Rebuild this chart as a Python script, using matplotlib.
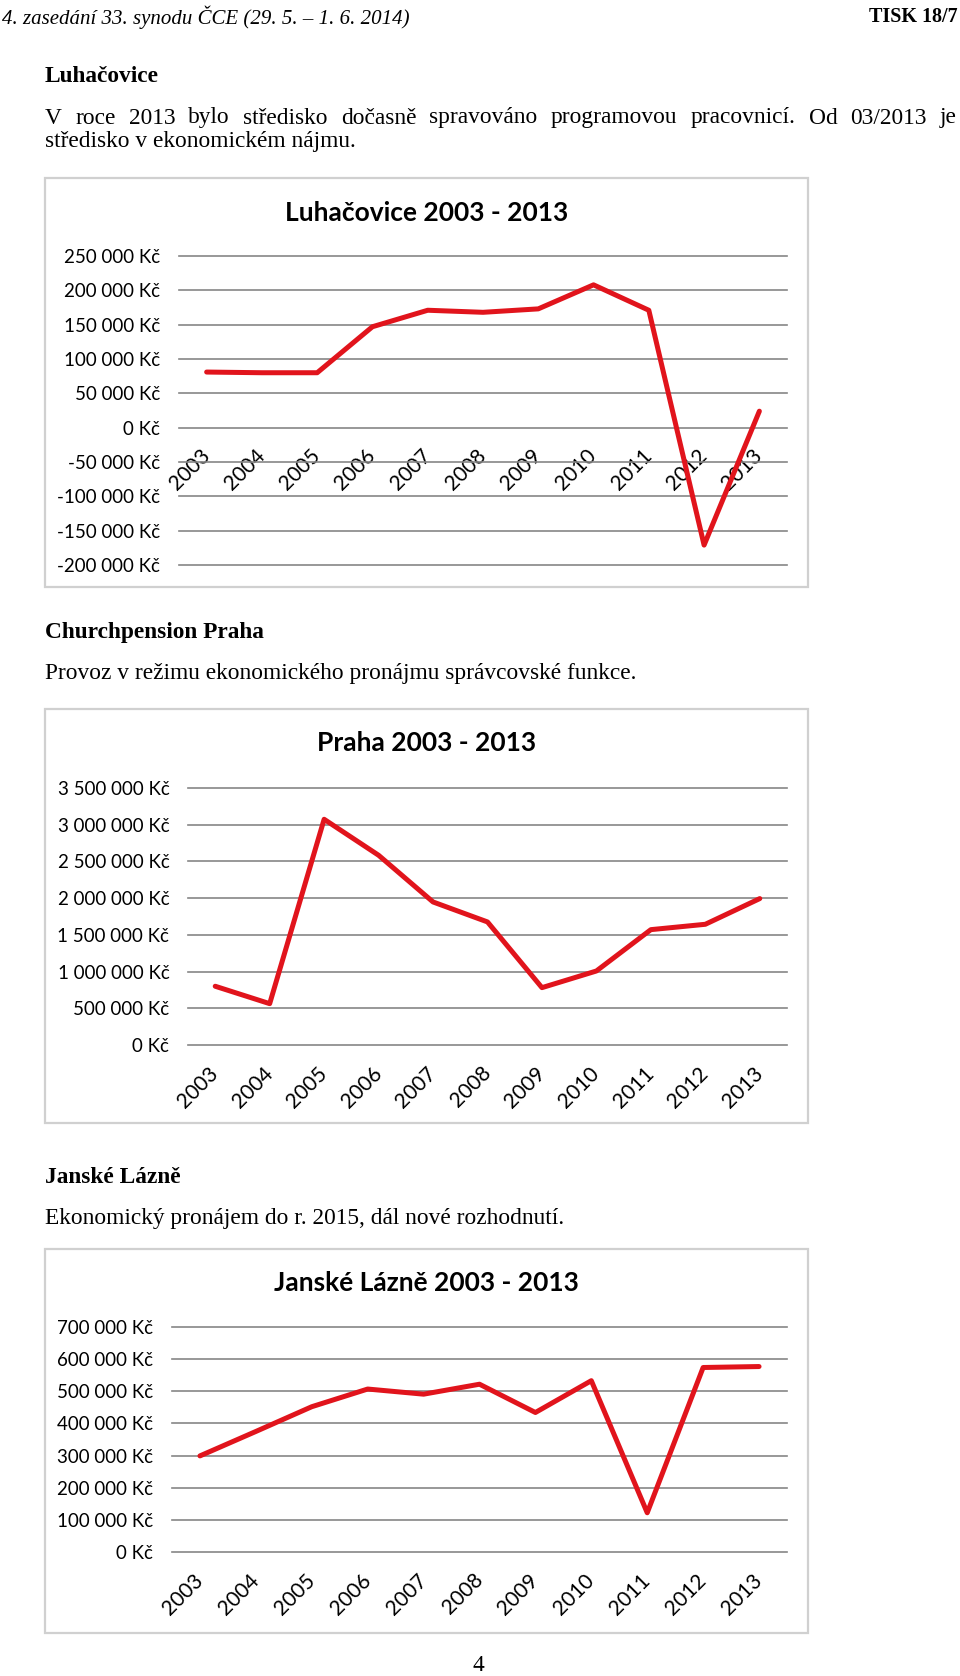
import matplotlib
matplotlib.use('Agg')
import matplotlib.pyplot as plt
from matplotlib.patches import Rectangle
from matplotlib.ticker import FuncFormatter

# rozmer stranky v pixelech (dpi 100)
W, H = 960, 1676

roky = ['2003', '2004', '2005', '2006', '2007', '2008',
        '2009', '2010', '2011', '2012', '2013']

luhacovice = [81000, 80000, 80000, 147000, 171000, 168000,
              173000, 208000, 171000, -171000, 24000]
praha = [800000, 563000, 3074000, 2584000, 1948000, 1676000,
         781000, 1008000, 1571000, 1644000, 1994000]
janske_lazne = [299000, 375000, 452000, 507000, 491000, 522000,
                434000, 533000, 122000, 574000, 577000]

luh_osa = list(range(-200000, 250001, 50000))
praha_osa = list(range(0, 3500001, 500000))
jl_osa = list(range(0, 700001, 100000))

SERIF = 'Liberation Serif'
SANS = 'Lato'
CERVENA = '#E1141C'
SEDA = '#868686'
VEL = 16.8  # velikost textu dokumentu


def fy(y):
    """pixel od horniho okraje -> zlomek figury"""
    return 1 - y / H


def kc(v, pos=None):
    return f'{v:,.0f}'.replace(',', ' ') + ' Kč'


def text_blok(fig, x, y, s, **kw):
    fig.text(x / W, fy(y), s, va='center', ha='left', **kw)


def zarovnany_radek(fig, x0, x1, y, s, **kw):
    # rucni zarovnani do bloku (jako ve Wordu)
    slova = s.split()
    r = fig.canvas.get_renderer()
    texty = [fig.text(0, fy(y), w, va='center', **kw) for w in slova]
    sirky = [t.get_window_extent(r).width for t in texty]
    mezera = (x1 - x0 - sum(sirky)) / (len(slova) - 1)
    x = x0
    for t, w in zip(texty, sirky):
        t.set_x(x / W)
        x += w + mezera


def graf(fig, box, plocha, titulek, titulek_y, hodnoty, osa):
    bx0, by0, bx1, by1 = box
    fig.patches.append(Rectangle((bx0 / W, fy(by1)), (bx1 - bx0) / W,
                                 (by1 - by0) / H, transform=fig.transFigure,
                                 fill=False, edgecolor='#D0D0D0', lw=1.6))
    fig.text((bx0 + bx1) / 2 / W, fy(titulek_y), titulek, ha='center',
             va='center', family=SANS, fontweight='bold', fontsize=19)

    px0, py_top, px1, py_bot = plocha
    ax = fig.add_axes([px0 / W, fy(py_bot), (px1 - px0) / W,
                       (py_bot - py_top) / H])
    # osa kategorii prochazi nulou (jako v Excelu)
    for s in ax.spines.values():
        s.set_visible(False)
    ax.spines['bottom'].set_position(('data', 0))

    ax.plot(range(len(roky)), hodnoty, color=CERVENA, lw=3.6,
            solid_joinstyle='round', solid_capstyle='round', zorder=3)
    ax.set_xlim(-0.5, len(roky) - 0.5)
    ax.set_ylim(osa[0], osa[-1])
    ax.set_yticks(osa)
    ax.yaxis.set_major_formatter(FuncFormatter(kc))
    ax.set_xticks(range(len(roky)))
    ax.set_xticklabels(roky, rotation=45, ha='right', va='center',
                       rotation_mode='anchor')
    ax.grid(axis='y', color=SEDA, lw=1.2)
    ax.set_axisbelow(True)
    ax.tick_params(axis='x', length=0, pad=18, labelsize=15)
    ax.tick_params(axis='y', length=0, pad=13.5, labelsize=13.5)
    for t in ax.get_xticklabels() + ax.get_yticklabels():
        t.set_family(SANS)
    for gl in ax.get_ygridlines():
        gl.set_clip_on(False)
    ax.patch.set_alpha(0)
    return ax


def main():
    fig = plt.figure(figsize=(W / 100, H / 100), dpi=100, facecolor='white')

    # hlavicka
    fig.text(0.002, fy(17), '4. zasedání 33. synodu ČCE (29. 5. – 1. 6. 2014)',
             family=SERIF, style='italic', fontsize=15, va='center')
    fig.text(0.998, fy(17), 'TISK 18/7', family=SERIF, fontweight='bold',
             fontsize=14.5, va='center', ha='right')

    # Luhacovice
    text_blok(fig, 45, 76, 'Luhačovice', family=SERIF, fontweight='bold',
              fontsize=VEL)
    zarovnany_radek(fig, 45, 957, 118,
                    'V roce 2013 bylo středisko dočasně spravováno '
                    'programovou pracovnicí. Od 03/2013 je',
                    family=SERIF, fontsize=VEL)
    text_blok(fig, 45, 142, 'středisko v ekonomickém nájmu.', family=SERIF,
              fontsize=VEL)
    graf(fig, (45, 178, 808, 587), (179, 256, 787, 565),
         'Luhačovice 2003 - 2013', 213, luhacovice, luh_osa)

    # Praha
    text_blok(fig, 45, 632, 'Churchpension Praha', family=SERIF,
              fontweight='bold', fontsize=VEL)
    text_blok(fig, 45, 673,
              'Provoz v režimu ekonomického pronájmu správcovské funkce.',
              family=SERIF, fontsize=VEL)
    graf(fig, (45, 709, 808, 1123), (188, 788, 787, 1045),
         'Praha 2003 - 2013', 743, praha, praha_osa)

    # Janske Lazne
    text_blok(fig, 45, 1177, 'Janské Lázně', family=SERIF, fontweight='bold',
              fontsize=VEL)
    text_blok(fig, 45, 1218,
              'Ekonomický pronájem do r. 2015, dál nové rozhodnutí.',
              family=SERIF, fontsize=VEL)
    graf(fig, (45, 1249, 808, 1633), (172, 1327, 787, 1552),
         'Janské Lázně 2003 - 2013', 1283, janske_lazne, jl_osa)

    fig.text(478 / W, fy(1665), '4', family=SERIF, fontsize=VEL,
             ha='center', va='center')

    fig.savefig('out.png', dpi=100, facecolor='white')
    plt.close(fig)


if __name__ == '__main__':
    main()
